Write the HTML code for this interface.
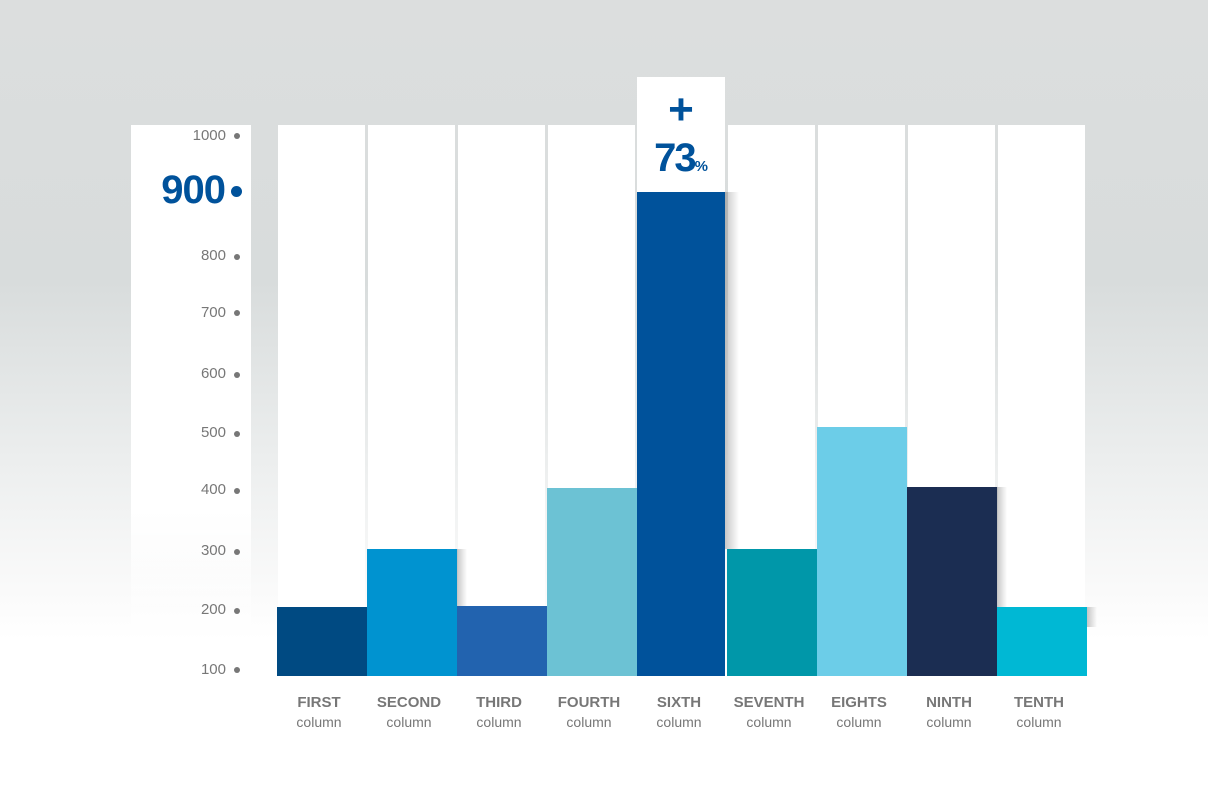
<!DOCTYPE html>
<html><head><meta charset="utf-8"><style>
body{margin:0;width:1208px;height:804px;overflow:hidden;position:relative;font-family:"Liberation Sans",sans-serif;
background:linear-gradient(#dcdede 0px,#d8dcdc 280px,#eceeee 460px,#fbfbfb 600px,#fff 640px,#fff 804px);}
.a{position:absolute}
.col{position:absolute;top:125px;height:551px;width:87px;background:#fff}
.bar{position:absolute;bottom:128px;width:90px}
.sh{position:absolute;width:14px;background:linear-gradient(90deg,rgba(0,0,0,.22),rgba(0,0,0,0))}
.yl{position:absolute;left:150px;width:76px;text-align:right;font-size:15px;color:#777}
.dot{position:absolute;left:234px;width:6px;height:6px;border-radius:50%;background:#777}
.lb{position:absolute;top:694px;width:90px;text-align:center;color:#777}
.lb b{display:block;font-size:15px}
.lb span{display:block;font-size:14px;margin-top:3px}
</style></head><body>
<div class="a" style="left:131px;top:125px;width:120px;height:551px;background:linear-gradient(#fff 70%,rgba(255,255,255,0))"></div>
<div class="col" style="left:278px"></div><div class="col" style="left:368px"></div><div class="col" style="left:458px"></div>
<div class="col" style="left:548px"></div><div class="col" style="left:728px"></div><div class="col" style="left:818px"></div>
<div class="col" style="left:908px"></div><div class="col" style="left:998px"></div>
<div class="a" style="left:637px;top:77px;width:88px;height:115px;background:#fff"></div>
<div class="a" style="left:637px;top:88px;width:88px;text-align:center;color:#00529b;font-size:44px;font-weight:bold;line-height:44px">+</div>
<div class="a" style="left:637px;top:136px;width:88px;text-align:center;color:#00529b;font-size:40px;font-weight:bold;letter-spacing:-2px;line-height:44px">73<span style="font-size:15px;letter-spacing:0">%</span></div>

<div class="sh" style="left:725px;top:192px;height:357px;background:linear-gradient(90deg,rgba(0,0,0,.22),rgba(0,0,0,0)),linear-gradient(rgba(255,255,255,0),#fff)"></div>
<div class="sh" style="left:367px;top:549px;height:20px;width:10px"></div>
<div class="sh" style="left:547px;top:488px;height:20px;width:10px"></div>
<div class="sh" style="left:727px;top:549px;height:20px;width:10px"></div>
<div class="sh" style="left:907px;top:487px;height:20px;width:10px"></div>
<div class="sh" style="left:1087px;top:607px;height:20px;width:10px"></div>
<div class="sh" style="left:997px;top:487px;height:120px;width:10px"></div>
<div class="sh" style="left:457px;top:549px;height:57px;width:10px"></div>

<div class="bar" style="left:277px;height:69px;background:#004a82"></div>
<div class="bar" style="left:367px;height:127px;background:#0093d0"></div>
<div class="bar" style="left:457px;height:70px;background:#2263af"></div>
<div class="bar" style="left:547px;height:188px;background:#6cc2d4"></div>
<div class="bar" style="left:637px;height:484px;width:88px;background:#00529b"></div>
<div class="bar" style="left:727px;height:127px;background:#0097a9"></div>
<div class="bar" style="left:817px;height:249px;background:#6ccde8"></div>
<div class="bar" style="left:907px;height:189px;background:#1b2d52"></div>
<div class="bar" style="left:997px;height:69px;background:#00b8d4"></div>

<div class="yl" style="top:127px">1000</div><div class="dot" style="top:133px"></div>
<div class="a" style="left:131px;top:168px;width:94px;text-align:right;color:#00529b;font-size:40px;font-weight:bold;letter-spacing:-1px">900</div>
<div class="a" style="left:231px;top:186px;width:11px;height:11px;border-radius:50%;background:#00529b"></div>
<div class="yl" style="top:247px">800</div><div class="dot" style="top:254px"></div>
<div class="yl" style="top:304px">700</div><div class="dot" style="top:310px"></div>
<div class="yl" style="top:365px">600</div><div class="dot" style="top:372px"></div>
<div class="yl" style="top:424px">500</div><div class="dot" style="top:431px"></div>
<div class="yl" style="top:481px">400</div><div class="dot" style="top:488px"></div>
<div class="yl" style="top:542px">300</div><div class="dot" style="top:549px"></div>
<div class="yl" style="top:601px">200</div><div class="dot" style="top:608px"></div>
<div class="yl" style="top:661px">100</div><div class="dot" style="top:667px"></div>

<div class="lb" style="left:274px"><b>FIRST</b><span>column</span></div>
<div class="lb" style="left:364px"><b>SECOND</b><span>column</span></div>
<div class="lb" style="left:454px"><b>THIRD</b><span>column</span></div>
<div class="lb" style="left:544px"><b>FOURTH</b><span>column</span></div>
<div class="lb" style="left:634px"><b>SIXTH</b><span>column</span></div>
<div class="lb" style="left:724px"><b>SEVENTH</b><span>column</span></div>
<div class="lb" style="left:814px"><b>EIGHTS</b><span>column</span></div>
<div class="lb" style="left:904px"><b>NINTH</b><span>column</span></div>
<div class="lb" style="left:994px"><b>TENTH</b><span>column</span></div>
</body></html>
